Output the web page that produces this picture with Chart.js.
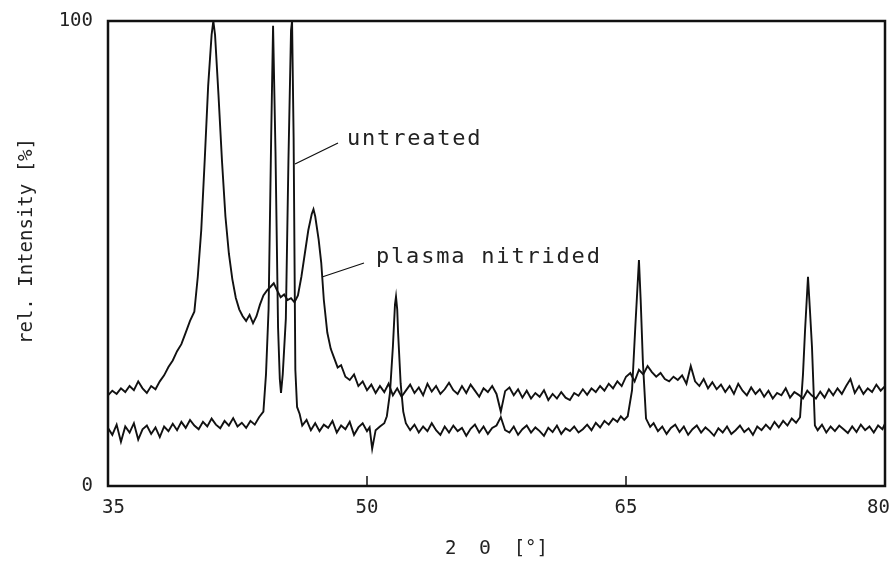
<!DOCTYPE html>
<html>
<head>
<meta charset="utf-8">
<script src="https://cdn.jsdelivr.net/npm/chart.js@4"></script>
<style>
  html, body { margin: 0; padding: 0; background: #fff; }
  #wrap { width: 893px; height: 565px; position: relative; }
</style>
</head>
<body>
<div id="wrap"><canvas id="xrd"></canvas></div>
<script>
/* XRD pattern: untreated vs plasma nitrided, rel. intensity over 2 theta */
const xTicks = [35, 50, 65, 80];
const yTicks = [0, 100];

const nitridedX = [
  35.0, 35.25, 35.5, 35.75, 36.0, 36.25, 36.5, 36.75, 37.0, 37.25, 37.5, 37.75,
  38.0, 38.25, 38.5, 38.75, 39.0, 39.25, 39.5, 39.75, 40.0, 40.2, 40.4, 40.6,
  40.8, 41.0, 41.1, 41.2, 41.4, 41.6, 41.8, 42.0, 42.2, 42.4, 42.6, 42.8,
  43.0, 43.2, 43.4, 43.6, 43.8, 44.0, 44.2, 44.4, 44.6, 44.8, 45.0, 45.2,
  45.4, 45.6, 45.8, 46.0, 46.2, 46.4, 46.6, 46.8, 46.9, 47.0, 47.2, 47.35,
  47.5, 47.7, 47.9, 48.1, 48.3, 48.5, 48.75, 49.0, 49.25, 49.5, 49.75, 50.0,
  50.25, 50.5, 50.75, 51.0, 51.25, 51.5, 51.75, 52.0, 52.25, 52.5, 52.75, 53.0,
  53.25, 53.5, 53.75, 54.0, 54.25, 54.5, 54.75, 55.0, 55.25, 55.5, 55.75, 56.0,
  56.25, 56.5, 56.75, 57.0, 57.25, 57.5, 57.75, 58.0, 58.25, 58.5, 58.75, 59.0,
  59.25, 59.5, 59.75, 60.0, 60.25, 60.5, 60.75, 61.0, 61.25, 61.5, 61.75, 62.0,
  62.25, 62.5, 62.75, 63.0, 63.25, 63.5, 63.75, 64.0, 64.25, 64.5, 64.75, 65.0,
  65.25, 65.5, 65.75, 66.0, 66.25, 66.5, 66.75, 67.0, 67.25, 67.5, 67.75, 68.0,
  68.25, 68.5, 68.75, 69.0, 69.25, 69.5, 69.75, 70.0, 70.25, 70.5, 70.75, 71.0,
  71.25, 71.5, 71.75, 72.0, 72.25, 72.5, 72.75, 73.0, 73.25, 73.5, 73.75, 74.0,
  74.25, 74.5, 74.75, 75.0, 75.25, 75.5, 75.75, 76.0, 76.25, 76.5, 76.75, 77.0,
  77.25, 77.5, 77.75, 78.0, 78.25, 78.5, 78.75, 79.0, 79.25, 79.5, 79.75, 80.0
];
const nitridedY = [
  19.5, 20.5, 19.8, 21.0, 20.2, 21.5, 20.6, 22.5, 21.0, 20.0, 21.5, 20.8,
  22.5, 23.8, 25.6, 27.0, 29.0, 30.5, 33.0, 35.5, 37.5, 45.0, 55.0, 70.0,
  86.0, 97.0, 100, 97.0, 84.0, 70.0, 58.0, 50.0, 44.5, 40.5, 38.0, 36.5,
  35.5, 36.8, 35.0, 36.5, 39.0, 41.0, 42.0, 42.8, 43.6, 42.0, 40.6, 41.2,
  40.0, 40.4, 39.5, 41.0, 45.0, 50.0, 55.0, 58.5, 59.5, 58.0, 53.0, 48.0,
  40.0, 33.0, 29.5, 27.5, 25.5, 26.0, 23.5, 22.8, 24.0, 21.5, 22.5, 20.6,
  21.8, 20.0, 21.5, 20.2, 22.0, 19.5, 21.0, 19.2, 20.5, 21.8, 20.0, 21.2,
  19.5, 22.0, 20.3, 21.5, 19.8, 20.8, 22.2, 20.6, 19.8, 21.5, 20.0, 21.8,
  20.5, 19.2, 21.0, 20.2, 21.5, 19.8, 16.0, 20.4, 21.2, 19.5, 20.8, 19.0,
  20.5, 18.8, 20.0, 19.2, 20.6, 18.5, 19.8, 18.8, 20.2, 19.0, 18.5, 20.0,
  19.4, 20.8, 19.6, 21.0, 20.2, 21.5, 20.5, 22.0, 21.0, 22.5, 21.5, 23.5,
  24.3, 22.5, 25.0, 24.0, 25.8, 24.5, 23.5, 24.3, 23.0, 22.5, 23.5, 22.8,
  23.8, 22.0, 25.8, 22.5, 21.5, 23.0, 21.0, 22.3, 20.8, 21.8, 20.2, 21.5,
  19.8, 22.0, 20.5, 19.5, 21.2, 19.8, 20.8, 19.2, 20.5, 18.8, 20.0, 19.5,
  21.0, 19.0, 20.2, 19.6, 18.8, 20.5, 19.5, 18.8, 20.3, 19.0, 20.8, 19.5,
  21.0, 19.8, 21.5, 23.0, 20.0, 21.5, 19.8, 21.0, 20.2, 21.8, 20.5, 21.5
];

const untreatedX = [
  35.0, 35.25, 35.5, 35.75, 36.0, 36.25, 36.5, 36.75, 37.0, 37.25, 37.5, 37.75,
  38.0, 38.25, 38.5, 38.75, 39.0, 39.25, 39.5, 39.75, 40.0, 40.25, 40.5, 40.75,
  41.0, 41.25, 41.5, 41.75, 42.0, 42.25, 42.5, 42.75, 43.0, 43.25, 43.5, 43.75,
  44.0, 44.15, 44.3, 44.45, 44.56, 44.7, 44.85, 44.95, 45.02, 45.12, 45.3, 45.45,
  45.6, 45.66, 45.75, 45.85, 45.95, 46.1, 46.25, 46.5, 46.75, 47.0, 47.25, 47.5,
  47.75, 48.0, 48.25, 48.5, 48.75, 49.0, 49.25, 49.5, 49.75, 50.0, 50.15, 50.3,
  50.5, 50.75, 51.0, 51.15, 51.33, 51.5, 51.62, 51.68, 51.75, 51.8, 51.95, 52.1,
  52.25, 52.5, 52.75, 53.0, 53.25, 53.5, 53.75, 54.0, 54.25, 54.5, 54.75, 55.0,
  55.25, 55.5, 55.75, 56.0, 56.25, 56.5, 56.75, 57.0, 57.25, 57.5, 57.75, 58.0,
  58.25, 58.5, 58.75, 59.0, 59.25, 59.5, 59.75, 60.0, 60.25, 60.5, 60.75, 61.0,
  61.25, 61.5, 61.75, 62.0, 62.25, 62.5, 62.75, 63.0, 63.25, 63.5, 63.75, 64.0,
  64.25, 64.5, 64.7, 64.9, 65.1, 65.35, 65.55, 65.75, 65.85, 65.98, 66.16, 66.4,
  66.6, 66.85, 67.1, 67.35, 67.6, 67.85, 68.1, 68.35, 68.6, 68.85, 69.1, 69.35,
  69.6, 69.85, 70.1, 70.35, 70.6, 70.85, 71.1, 71.35, 71.6, 71.85, 72.1, 72.35,
  72.6, 72.85, 73.1, 73.35, 73.6, 73.85, 74.1, 74.35, 74.6, 74.85, 75.08, 75.25,
  75.37, 75.54, 75.65, 75.77, 75.94, 76.1, 76.35, 76.6, 76.85, 77.1, 77.35, 77.6,
  77.85, 78.1, 78.35, 78.6, 78.85, 79.1, 79.35, 79.6, 79.85, 80.0
];
const untreatedY = [
  12.5, 11.0, 13.2, 9.5, 12.8, 11.5, 13.5, 10.0, 12.2, 13.0, 11.2, 12.6,
  10.5, 12.8, 11.8, 13.4, 12.0, 13.8, 12.5, 14.2, 13.0, 12.2, 13.8, 12.8,
  14.5, 13.2, 12.4, 14.0, 13.0, 14.6, 12.8, 13.6, 12.5, 14.0, 13.2, 14.8,
  16.0, 24.0, 38.0, 75.0, 99.0, 72.0, 34.0, 23.0, 20.0, 24.0, 36.0, 70.0,
  98.0, 100, 75.0, 25.0, 17.0, 15.5, 13.0, 14.2, 12.0, 13.5, 11.8, 13.2,
  12.5, 14.0, 11.5, 13.0, 12.2, 13.8, 11.0, 12.6, 13.5, 11.8, 12.6, 8.0,
  12.0, 12.8, 13.5, 15.0, 20.0, 30.0, 39.0, 40.7, 38.0, 33.0, 22.0, 16.0,
  13.5, 12.0, 13.2, 11.5, 12.8, 11.8, 13.5, 12.0, 11.0, 12.8, 11.5, 13.0,
  11.8, 12.5, 10.8, 12.3, 13.2, 11.5, 12.8, 11.2, 12.5, 13.0, 14.8, 12.0,
  11.5, 12.8, 11.0, 12.2, 13.0, 11.5, 12.6, 11.8, 10.8, 12.5, 11.6, 13.0,
  11.2, 12.4, 11.8, 12.8, 11.5, 12.2, 13.2, 12.0, 13.6, 12.6, 14.0, 13.2,
  14.5, 13.8, 15.0, 14.2, 15.0, 20.6, 35.0, 48.6, 40.0, 26.5, 14.5, 12.7,
  13.5, 11.8, 12.8, 11.2, 12.5, 13.2, 11.6, 12.8, 11.0, 12.2, 13.0, 11.5,
  12.6, 11.8, 10.8, 12.4, 11.5, 12.8, 11.2, 12.0, 13.0, 11.6, 12.4, 11.0,
  12.8, 12.0, 13.2, 12.2, 13.8, 12.6, 14.0, 13.0, 14.5, 13.6, 14.8, 24.0,
  33.5, 45.0, 38.0, 30.0, 13.0, 12.0, 13.2, 11.5, 12.8, 11.8, 13.0, 12.2,
  11.4, 12.8, 11.6, 13.2, 12.0, 12.8, 11.5, 13.0, 12.2, 13.4
];

const toPoints = (xs, ys) => xs.map((x, i) => ({ x: x, y: ys[i] }));

const ink = '#111';
const textInk = '#222';
const monoFont = '"DejaVu Sans Mono", "Liberation Mono", monospace';

// frame, inward ticks, x tick labels, axis titles and the two labels with leader lines
const decorations = {
  id: 'decorations',
  afterDatasetsDraw(chart) {
    const { ctx, chartArea: a, scales, width } = chart;
    ctx.save();
    ctx.strokeStyle = ink;
    ctx.lineWidth = 2.5;
    ctx.strokeRect(a.left, a.top, a.right - a.left, a.bottom - a.top);

    ctx.lineWidth = 1.5;
    xTicks.slice(1, -1).forEach(v => {
      const px = scales.x.getPixelForValue(v);
      ctx.beginPath();
      ctx.moveTo(px, a.bottom);
      ctx.lineTo(px, a.bottom - 10);
      ctx.stroke();
    });

    // x tick labels, kept inside the canvas at both ends
    ctx.fillStyle = textInk;
    ctx.font = '19px ' + monoFont;
    ctx.textAlign = 'center';
    ctx.textBaseline = 'middle';
    xTicks.forEach(v => {
      const w = ctx.measureText(String(v)).width;
      let px = scales.x.getPixelForValue(v);
      px = Math.max(px, w / 2 + 102);
      px = Math.min(px, width - w / 2 - 3);
      ctx.fillText(String(v), px, a.bottom + 22);
    });

    ctx.fillText('2  Θ  [°]', (a.left + a.right) / 2, 549);

    ctx.save();
    ctx.translate(27, 241);
    ctx.rotate(-Math.PI / 2);
    ctx.fillText('rel. Intensity [%]', 0, 0);
    ctx.restore();

    ctx.lineWidth = 1.3;
    ctx.beginPath();
    ctx.moveTo(295, 164); ctx.lineTo(338, 143);
    ctx.moveTo(322, 277); ctx.lineTo(364, 263);
    ctx.stroke();

    ctx.font = '22px ' + monoFont;
    ctx.letterSpacing = '1.8px';
    ctx.textAlign = 'left';
    ctx.textBaseline = 'alphabetic';
    ctx.fillText('untreated', 347, 145);
    ctx.fillText('plasma nitrided', 376, 263);
    ctx.restore();
  }
};

new Chart(document.getElementById('xrd'), {
  type: 'line',
  data: {
    datasets: [{
      label: 'plasma nitrided',
      data: toPoints(nitridedX, nitridedY),
      borderColor: ink,
      borderWidth: 1.9,
      pointRadius: 0,
      tension: 0
    }, {
      label: 'untreated',
      data: toPoints(untreatedX, untreatedY),
      borderColor: ink,
      borderWidth: 1.9,
      pointRadius: 0,
      tension: 0
    }]
  },
  options: {
    responsive: true,
    maintainAspectRatio: false,
    animation: false,
    layout: { padding: { top: 21, right: 8, left: 0, bottom: 0 } },
    plugins: {
      legend: { display: false },
      tooltip: { enabled: false }
    },
    scales: {
      x: {
        type: 'linear',
        min: 35,
        max: 80,
        afterBuildTicks: s => { s.ticks = xTicks.map(v => ({ value: v })); },
        afterFit: s => { s.height = 79; s.paddingLeft = 0; s.paddingRight = 0; },
        grid: { display: false, drawTicks: false },
        border: { display: false },
        ticks: { display: false }
      },
      y: {
        min: 0,
        max: 100,
        afterBuildTicks: s => { s.ticks = yTicks.map(v => ({ value: v })); },
        afterFit: s => { s.width = 108; s.paddingTop = 0; s.paddingBottom = 0; },
        grid: { display: false, drawTicks: false },
        border: { display: false },
        ticks: { color: textInk, padding: 15, font: { family: monoFont, size: 19 } }
      }
    }
  },
  plugins: [decorations]
});
</script>
</body>
</html>
